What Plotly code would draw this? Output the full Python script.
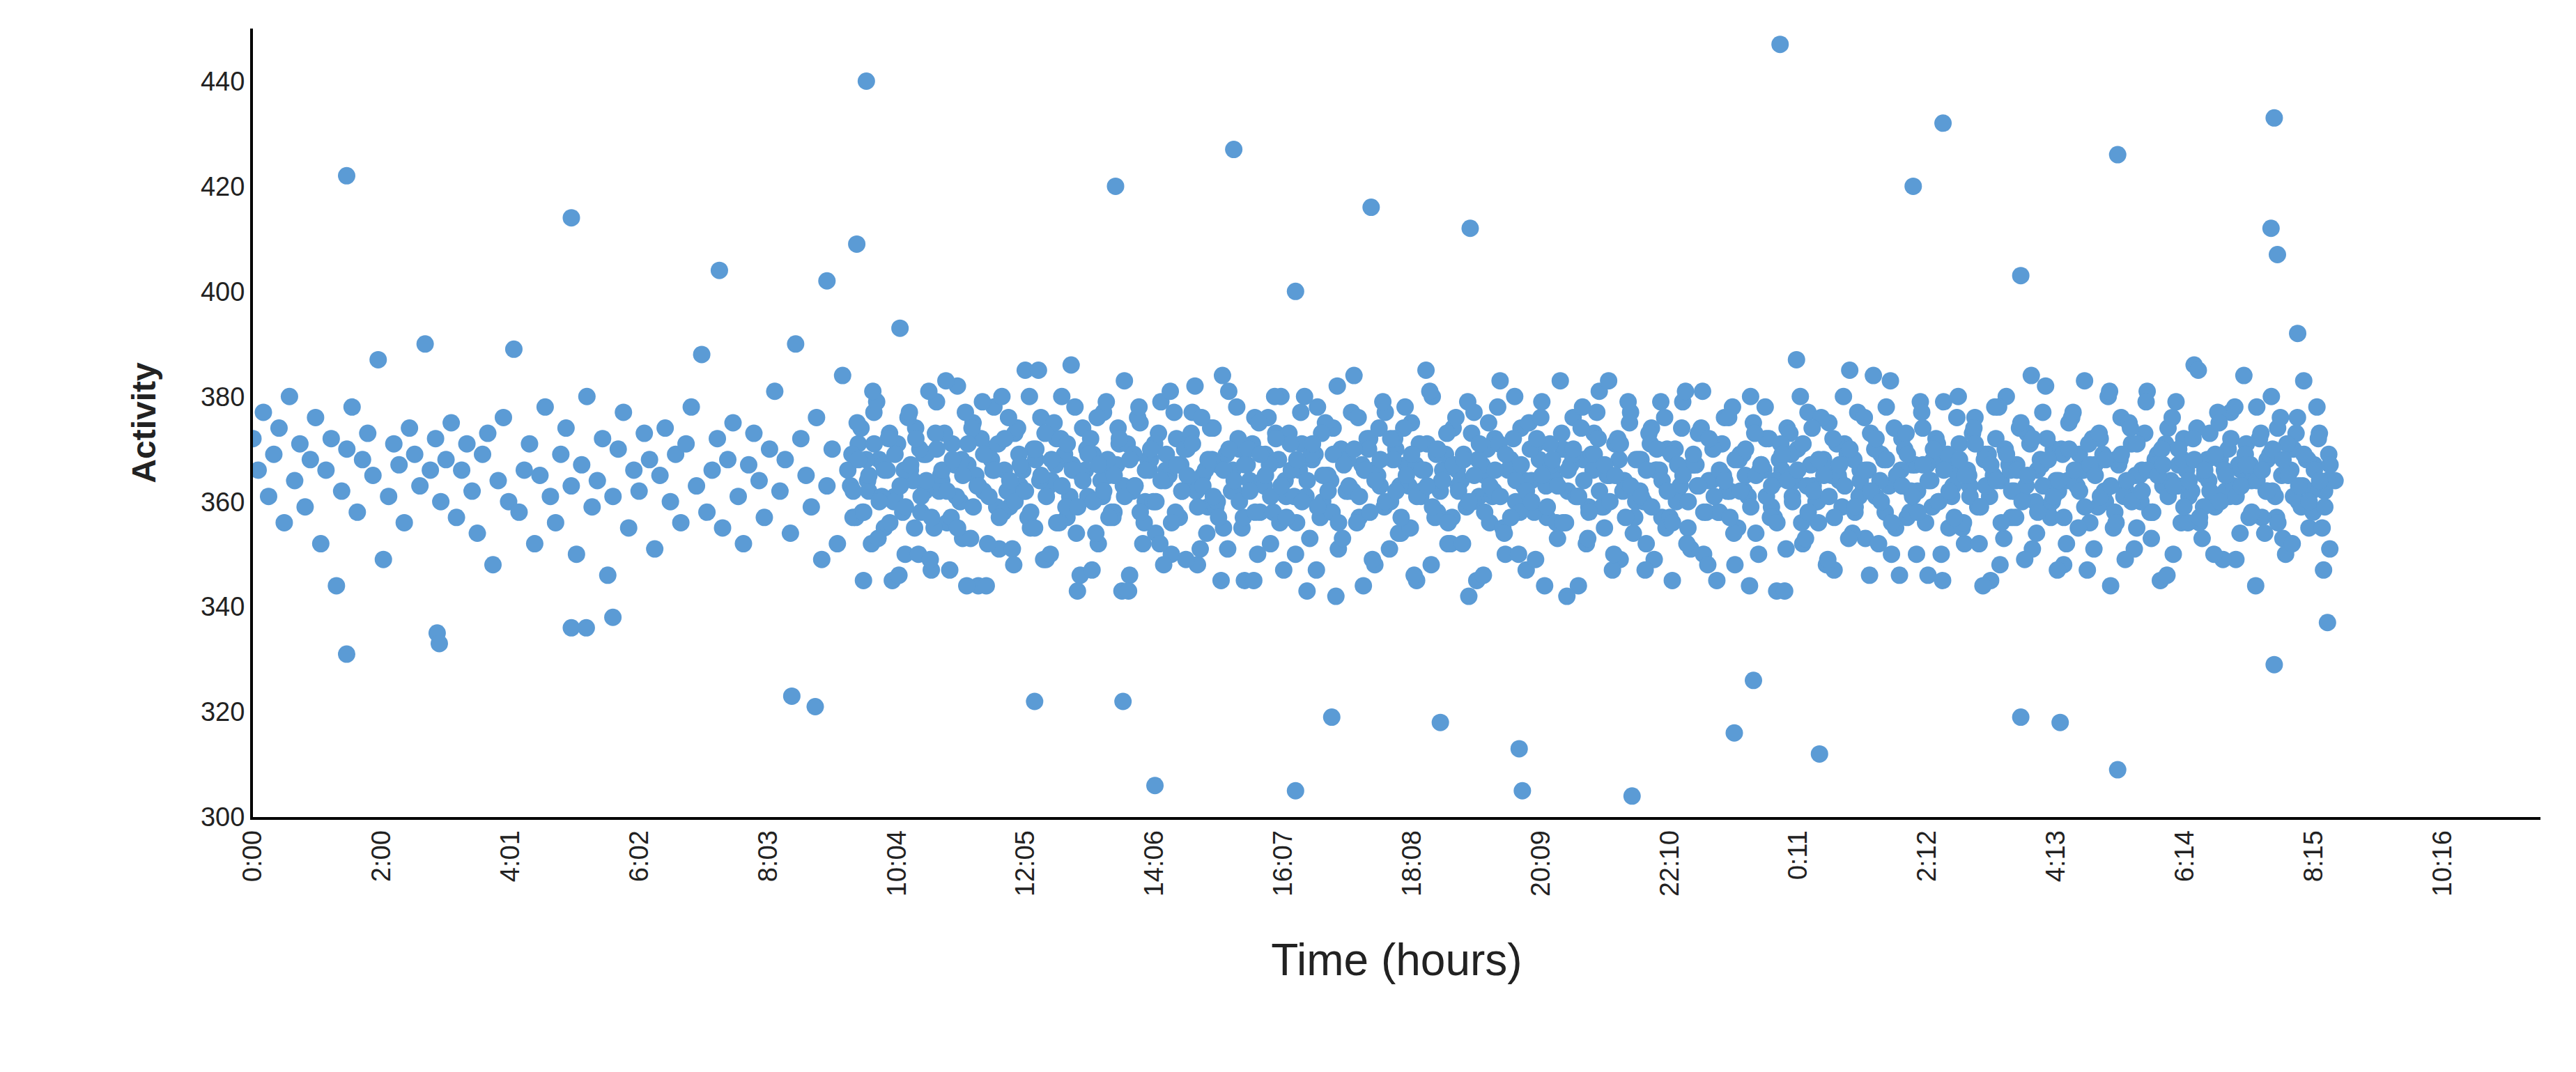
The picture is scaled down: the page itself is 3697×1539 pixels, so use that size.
import plotly.graph_objects as go

# regular samples, one every 4.9 minutes from 0:00
sample_step_min = 4.9
activity = [
    372, 366, 377, 361, 369, 374, 356, 380, 364, 371, 359, 368, 376, 352, 366, 372, 344, 362, 370, 378,
    358, 368, 373, 365, 387, 349, 361, 371, 367, 356, 374, 369, 363, 390, 366, 372, 360, 368, 375, 357,
    366, 371, 362, 354, 369, 373, 348, 364, 376, 360, 389, 358, 366, 371, 352, 365, 378, 361, 356, 369,
    374, 363, 350, 367, 380, 359, 364, 372, 346, 361, 370, 377, 355, 366, 362, 373, 368, 351, 365, 374,
    360, 369, 356, 371, 378, 363, 388, 358, 366, 372, 355, 368, 375, 361, 352, 367, 373, 364, 357, 370,
    381, 362, 368, 354, 390, 372, 365, 359, 376, 349, 363, 370, 352, 384, 366, 357, 371, 345, 362, 377,
    368, 355, 373, 361, 393, 350, 366, 374, 358, 369, 347, 379, 364, 356, 371, 382, 353, 367, 375, 344,
    362, 370, 378, 351, 366, 359, 373, 363, 385, 355, 368, 376, 349, 364, 372, 380, 357, 367, 343, 374,
    361, 369, 352, 377, 365, 358, 371, 383, 346, 363, 375, 360, 368, 354, 379, 366, 350, 372, 362, 370,
    377, 348, 365, 359, 374, 367, 355, 381, 362, 370, 345, 364, 376, 358, 369, 352, 373, 380, 361, 366,
    356, 371, 343, 368, 378, 360, 365, 374, 351, 369, 362, 384, 357, 366, 372, 348, 363, 377, 360, 370,
    354, 367, 375, 345, 362, 371, 380, 358, 366, 352, 374, 363, 369, 342, 377, 361, 365, 356, 372, 383,
    350, 368, 360, 374, 347, 364, 371, 379, 357, 366, 353, 370, 362, 376, 344, 368, 359, 373, 381, 355,
    365, 371, 349, 363, 377, 360, 368, 352, 374, 366, 357, 370, 345, 362, 379, 355, 367, 373, 350, 364,
    371, 358, 376, 362, 348, 369, 365, 380, 354, 367, 372, 359, 343, 366, 374, 361, 370, 352, 377, 363,
    356, 368, 375, 347, 364, 371, 385, 358, 366, 353, 373, 361, 369, 378, 350, 365, 372, 357, 367, 362,
    374, 346, 368, 360, 379, 355, 366, 371, 352, 363, 376, 359, 369, 345, 372, 364, 380, 357, 367, 361,
    373, 351, 366, 377, 359, 370, 362, 348, 375, 364, 369, 383, 356, 367, 372, 360, 344, 368, 376, 362,
    371, 355, 366, 381, 358, 369, 363, 374, 350, 367, 372, 361, 386, 356, 365, 373, 359, 368, 362, 377,
    349, 366, 371, 364, 378, 357, 368, 362, 374, 353, 366, 370, 360, 383, 355, 367, 373, 362, 351, 364,
]

# the dense stretch from about 9:20 on holds more interleaved sample runs
dense_start_min = 560
dense_b = [
    363, 357, 374, 368, 352, 379, 361, 366, 345, 371, 358, 376, 364, 350, 369, 381, 355, 362, 373, 347,
    367, 360, 377, 353, 365, 372, 344, 368, 359, 380, 362, 351, 374, 366, 357, 370, 385, 349, 363, 375,
    356, 369, 361, 378, 346, 366, 372, 354, 364, 379, 358, 367, 343, 371, 362, 376, 352, 368, 360, 373,
    348, 365, 377, 357, 370, 363, 382, 351, 366, 374, 359, 345, 369, 362, 378, 355, 367, 371, 350, 364,
    376, 358, 368, 347, 373, 361, 366, 380, 353, 369, 357, 375, 364, 342, 370, 362, 377, 356, 367, 372,
    349, 365, 379, 360, 368, 354, 374, 363, 346, 371, 366, 381, 357, 362, 369, 352, 376, 364, 359, 373,
    345, 367, 370, 361, 378, 355, 366, 372, 350, 363, 375, 358, 368, 344, 371, 364, 383, 356, 367, 361,
    374, 352, 369, 377, 359, 365, 347, 372, 362, 379, 354, 368, 360, 373, 349, 366, 376, 357, 370, 363,
    381, 351, 367, 374, 358, 364, 345, 371, 362, 378, 355, 369, 361, 375, 350, 366, 372, 357, 368, 343,
    373, 364, 380, 353, 367, 360, 376, 348, 365, 371, 359, 369, 354, 377, 362, 366, 384, 352, 368, 363,
    374, 346, 370, 358, 367, 379, 356, 364, 372, 350, 368, 361, 376, 355, 366, 373, 359, 344, 369, 365,
    378, 353, 367, 362, 374, 349, 371, 360, 368, 382, 357, 364, 370, 352, 376, 363, 366, 347, 372, 359,
    369, 380, 355, 367, 361, 375, 351, 365, 373, 358, 368, 345, 371, 364, 379, 356, 366, 362, 374, 353,
    368, 360, 377, 349, 370, 363, 367, 384, 357, 365, 372, 354, 369, 361, 376, 350, 366, 373, 359, 368,
    362, 378, 355, 364,
]
dense_c = [
    369, 375, 358, 364, 381, 353, 367, 372, 360, 346, 366, 377, 355, 370, 362, 349, 373, 365, 383, 357,
    361, 368, 344, 374, 363, 379, 352, 366, 371, 358, 376, 348, 369, 362, 380, 355, 364, 373, 350, 367,
    372, 359, 386, 354, 365, 370, 347, 376, 361, 368, 357, 374, 363, 343, 369, 378, 356, 366, 371, 352,
    364, 381, 358, 367, 349, 373, 362, 376, 354, 368, 360, 384, 351, 366, 372, 357, 370, 345, 375, 363,
    367, 380, 356, 364, 371, 350, 377, 361, 369, 347, 373, 365, 358, 382, 353, 368, 362, 376, 344, 370,
    366, 374, 359, 351, 372, 363, 378, 355, 367, 361, 385, 348, 369, 364, 373, 357, 366, 352, 379, 360,
    368, 346, 375, 362, 371, 354, 366, 380, 358, 364, 370, 349, 376, 363, 367, 356, 373, 342, 369, 361,
    378, 353, 366, 372, 359, 383, 350, 368, 364, 375, 357, 362, 347, 371, 366, 379, 355, 369, 360, 374,
    352, 367, 363, 381, 348, 370, 358, 365, 376, 354, 368, 362, 344, 373, 366, 378, 357, 364, 371, 351,
    369, 387, 356, 363, 374, 360, 367, 349, 372, 365, 380, 353, 368, 361, 376, 346, 370, 364, 358, 383,
    355, 366, 373, 362, 350, 377, 367, 359, 371, 345, 369, 363, 380, 356, 365, 374, 352, 368, 361, 378,
    348, 370, 366, 357, 375, 363, 384, 354, 367, 372, 360, 347, 369, 364, 377, 355, 366, 371, 351, 373,
    362, 381, 358, 368, 349, 374, 365, 360, 379, 353, 367, 370, 346, 376, 363, 368, 356, 372, 385, 359,
    364, 350, 375, 366, 361, 378, 354, 369, 367, 344, 373, 362, 380, 357, 365, 371, 352, 376, 363, 368,
    358, 372, 347, 369,
]
# core readings close to the band centre
dense_d = [
    362, 368, 358, 365, 371, 360, 366, 356, 369, 363, 359, 367, 372, 361, 364, 357, 370, 366, 362, 368,
    355, 365, 371, 359, 363, 369, 361, 366, 357, 372, 364, 360, 367, 362, 358, 370, 365, 361, 368, 356,
    363, 371, 366, 359, 364, 369, 360, 367, 362, 357, 365, 372, 361, 368, 363, 358, 366, 370, 360, 364,
    369, 356, 367, 362, 365, 371, 359, 363, 368, 361, 357, 366, 370, 364, 360, 367, 362, 358, 369, 365,
    361, 372, 363, 357, 366, 368, 360, 364, 371, 359, 365, 362, 369, 356, 367, 363, 370, 361, 366, 358,
    364, 368, 360, 372, 362, 357, 365, 369, 361, 366, 363, 359, 370, 364, 356, 367, 362, 368, 360, 365,
    371, 358, 363, 366, 361, 369, 357, 364, 367, 362, 360, 372, 365, 359, 368, 363, 356, 366, 370, 361,
    364, 358, 369, 362, 367, 360, 365, 371, 357, 363, 368, 361, 366, 359, 370, 364, 362, 356, 367, 365,
    360, 369, 363, 358, 372, 361, 366, 364, 357, 368, 362, 370, 359, 365, 367, 361, 363, 356, 369, 364,
    360, 366, 371, 358, 362, 368, 365, 361, 357, 367, 363, 370, 359, 364, 366, 362, 372, 360, 368, 356,
    365, 363, 369, 361, 358, 367, 364, 370, 360, 366, 362, 357, 368, 365, 361, 371, 359, 363, 367, 364,
    356, 369, 362, 366, 360, 365, 372, 358, 363, 368, 361, 364, 357, 370, 366, 362, 359, 367, 365, 361,
    368, 363, 356, 369, 364, 360, 371, 362, 366, 358, 365, 367, 361, 363, 370, 359, 364, 368, 357, 366,
    362, 369, 360, 365, 372, 361, 363, 367, 358, 364, 366, 362, 370, 356, 368, 365, 361, 363, 369, 360,
    366, 364, 359, 367,
]

# scattered high / low readings (minutes after 0:00, activity)
outlier_min = [88, 88, 173, 175, 299, 299, 313, 338, 438, 506, 528, 539, 567, 576, 734, 810,
               817, 847, 921, 979, 979, 1013, 1050, 1115, 1143, 1189, 1192, 1295, 1391, 1409,
               1434, 1471, 1559, 1587, 1660, 1660, 1697, 1751, 1751, 1895, 1898, 1898, 1901,
               1920, 1948]
outlier_val = [422, 331, 335, 333, 414, 336, 336, 338, 404, 323, 321, 402, 409, 440, 322, 420,
               322, 306, 427, 400, 305, 319, 416, 318, 412, 313, 305, 304, 316, 326,
               447, 312, 420, 432, 319, 403, 318, 426, 309, 412, 433, 329, 407,
               392, 337]

tick_labels = ["0:00", "2:00", "4:01", "6:02", "8:03", "10:04", "12:05", "14:06", "16:07",
               "18:08", "20:09", "22:10", "0:11", "2:12", "4:13", "6:14", "8:15", "10:16"]
tick_step_min = 120.94

times = [i * sample_step_min for i in range(len(activity))]
times_b = [dense_start_min + 1.2 + i * sample_step_min for i in range(len(dense_b))]
times_c = [dense_start_min + 2.5 + i * sample_step_min for i in range(len(dense_c))]
times_d = [dense_start_min + 3.7 + i * sample_step_min for i in range(len(dense_d))]
color = "#5B9BD5"

fig = go.Figure()
fig.add_trace(go.Scatter(x=times + times_b + times_c + times_d + outlier_min,
                         y=activity + dense_b + dense_c + dense_d + outlier_val, mode="markers",
                         marker=dict(color=color, size=25, line=dict(width=0)),
                         showlegend=False))

fig.update_layout(
    width=3697, height=1539,
    margin=dict(l=355, r=59, t=33, b=374),
    plot_bgcolor="white", paper_bgcolor="white",
    font=dict(family="Liberation Sans, Arial", size=38, color="#222"),
)
fig.update_xaxes(
    range=[0, 2148], showgrid=False, zeroline=False,
    showline=True, linecolor="black", linewidth=4,
    tickmode="array", tickvals=[i * tick_step_min for i in range(len(tick_labels))],
    ticktext=tick_labels, tickangle=-90, ticks="",
    title=dict(text="Time (hours)", font=dict(size=64), standoff=70),
)
fig.update_yaxes(
    range=[300, 450], showgrid=False, zeroline=False,
    showline=True, linecolor="black", linewidth=4,
    tickvals=list(range(300, 441, 20)), ticks="",
    title=dict(text="<b>Activity</b>", font=dict(size=48), standoff=50),
)

fig.write_html("out.html")
